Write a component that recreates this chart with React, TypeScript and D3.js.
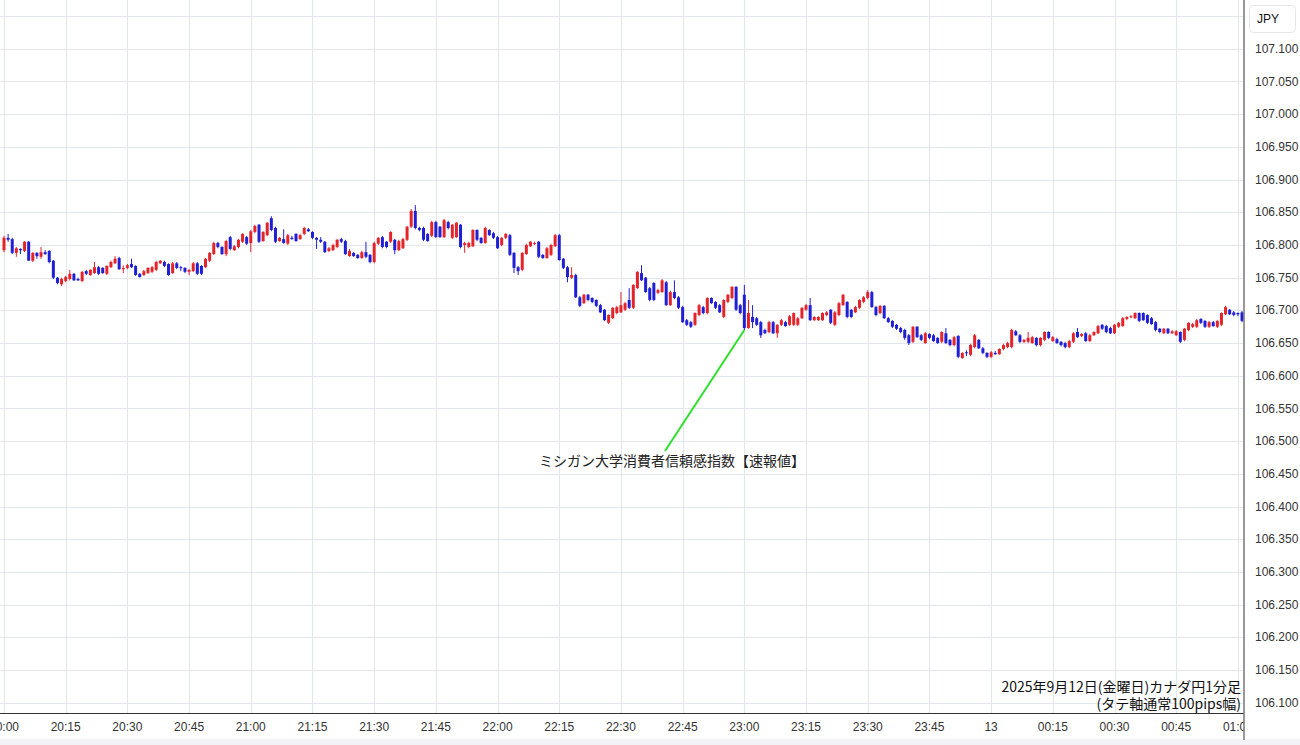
import React from "react";
import * as d3 from "d3";

// ---- data (CAD/JPY 1-minute candles, 2025-09-12 20:00 onwards) ----
const open = [
106.792,106.811,106.809,106.788,106.794,106.791,106.805,106.776,106.788,106.782,106.789,106.791,106.776,106.750,106.740,106.745,106.748,106.756,106.748,106.745,
106.760,106.754,106.757,106.766,106.765,106.756,106.766,106.772,106.780,106.763,106.765,106.771,106.768,106.756,106.754,106.757,106.759,106.762,106.772,106.774,
106.771,106.757,106.772,106.766,106.765,106.759,106.760,106.772,106.768,106.766,106.776,106.786,106.803,106.797,106.786,106.812,106.792,106.797,106.805,106.812,
106.803,106.820,106.831,106.806,106.815,106.841,106.826,106.806,106.809,106.802,106.811,106.817,106.809,106.817,106.824,106.820,106.811,106.808,106.805,106.791,
106.792,106.797,106.809,106.806,106.783,106.788,106.785,106.780,106.789,106.785,106.774,106.802,106.812,106.805,106.805,106.808,106.792,106.795,106.808,106.828,
106.852,106.826,106.826,106.817,106.814,106.835,106.828,106.812,106.835,106.811,106.812,106.831,106.800,106.797,106.798,106.823,106.811,106.803,106.823,106.818,
106.812,106.800,106.811,106.815,106.788,106.766,106.762,106.786,106.798,106.802,106.805,106.785,106.780,106.785,106.798,106.815,106.779,106.766,106.750,106.754,
106.720,106.711,106.724,106.719,106.716,106.708,106.701,106.681,106.688,106.696,106.697,106.701,106.716,106.704,106.734,106.757,106.750,106.734,106.742,106.727,
106.728,106.743,106.708,106.728,106.720,106.705,106.685,106.682,106.678,106.693,106.705,106.696,106.719,106.713,106.708,106.690,106.713,106.719,106.736,106.708,
106.724,106.673,106.690,106.688,106.682,106.670,106.667,106.682,106.665,106.678,106.682,106.678,106.678,106.678,106.688,106.701,106.708,106.685,106.685,106.685,
106.693,106.701,106.678,106.693,106.708,106.713,106.701,106.697,106.704,106.713,106.719,106.728,106.705,106.696,106.707,106.688,106.684,106.678,106.673,106.670,
106.662,106.652,106.675,106.662,106.650,106.664,106.662,106.658,106.652,106.665,106.655,106.647,106.661,106.627,106.636,106.632,106.644,106.655,106.642,106.635,
106.629,106.635,106.633,106.641,106.644,106.644,106.668,106.662,106.652,106.652,106.650,106.658,106.647,106.655,106.667,106.653,106.656,106.652,106.650,106.644,
106.652,106.667,106.661,106.665,106.653,106.662,106.665,106.678,106.676,106.673,106.665,106.675,106.676,106.687,106.690,106.688,106.696,106.696,106.693,106.688,
106.682,106.672,106.665,106.672,106.665,106.662,106.667,106.655,106.670,106.675,106.675,106.687,106.684,106.675,106.682,106.675,106.678,106.694,106.701,106.697,
106.696,106.697];
const high = [
106.814,106.817,106.811,106.797,106.795,106.806,106.806,106.789,106.789,106.797,106.792,106.792,106.777,106.751,106.750,106.753,106.762,106.757,106.750,106.760,
106.762,106.763,106.774,106.768,106.766,106.769,106.776,106.783,106.782,106.769,106.771,106.779,106.769,106.757,106.762,106.766,106.768,106.776,106.777,106.776,
106.772,106.774,106.774,106.768,106.766,106.763,106.774,106.774,106.769,106.780,106.789,106.805,106.805,106.798,106.808,106.814,106.800,106.809,106.818,106.814,
106.823,106.831,106.832,106.821,106.835,106.844,106.828,106.812,106.824,106.817,106.814,106.818,106.817,106.828,106.826,106.821,106.812,106.812,106.806,106.797,
106.802,106.809,106.811,106.808,106.794,106.789,106.786,106.791,106.805,106.786,106.805,106.812,106.814,106.806,106.821,106.809,106.808,106.811,106.829,106.855,
106.861,106.828,106.828,106.818,106.837,106.837,106.829,106.840,106.837,106.832,106.835,106.832,106.805,106.805,106.824,106.824,106.812,106.828,106.824,106.820,
106.814,106.812,106.818,106.817,106.789,106.768,106.789,106.802,106.806,106.805,106.806,106.786,106.797,106.802,106.817,106.817,106.780,106.768,106.766,106.756,
106.722,106.725,106.725,106.720,106.717,106.710,106.702,106.694,106.705,106.707,106.728,106.713,106.734,106.740,106.760,106.769,106.751,106.736,106.743,106.733,
106.748,106.745,106.730,106.746,106.722,106.707,106.687,106.684,106.697,106.710,106.707,106.720,106.720,106.714,106.710,106.717,106.725,106.737,106.737,106.710,
106.739,106.716,106.708,106.690,106.684,106.672,106.684,106.684,106.679,106.687,106.684,106.693,106.697,106.690,106.705,106.710,106.719,106.691,106.691,106.697,
106.699,106.702,106.699,106.713,106.725,106.714,106.702,106.707,106.717,106.722,106.731,106.730,106.707,106.708,106.708,106.690,106.685,106.679,106.675,106.672,
106.664,106.676,106.676,106.664,106.667,106.665,106.664,106.659,106.668,106.673,106.656,106.661,106.662,106.636,106.639,106.649,106.664,106.656,106.644,106.636,
106.638,106.638,106.642,106.649,106.652,106.672,106.670,106.664,106.656,106.667,106.661,106.659,106.659,106.668,106.668,106.661,106.658,106.653,106.652,106.655,
106.667,106.673,106.665,106.667,106.664,106.668,106.678,106.679,106.678,106.675,106.679,106.682,106.690,106.691,106.693,106.697,106.697,106.697,106.694,106.690,
106.684,106.673,106.673,106.673,106.670,106.670,106.668,106.673,106.682,106.681,106.687,106.688,106.685,106.684,106.684,106.685,106.697,106.707,106.702,106.699,
106.697,106.699];
const low = [
106.789,106.805,106.786,106.782,106.786,106.789,106.776,106.774,106.779,106.779,106.785,106.772,106.748,106.740,106.737,106.743,106.746,106.745,106.745,106.743,
106.754,106.753,106.756,106.754,106.756,106.754,106.765,106.771,106.762,106.757,106.763,106.765,106.753,106.750,106.753,106.756,106.757,106.760,106.771,106.766,
106.753,106.756,106.763,106.760,106.757,106.754,106.759,106.754,106.754,106.765,106.774,106.785,106.795,106.785,106.783,106.792,106.791,106.795,106.803,106.800,
106.789,106.818,106.803,106.805,106.814,106.821,106.803,106.805,106.802,106.800,106.808,106.805,106.808,106.815,106.820,106.809,106.794,106.803,106.788,106.789,
106.791,106.795,106.803,106.785,106.782,106.782,106.779,106.779,106.780,106.772,106.772,106.800,106.795,106.795,106.803,106.786,106.791,106.794,106.806,106.826,
106.824,106.821,106.806,106.805,106.812,106.811,106.811,106.811,106.824,106.809,106.811,106.795,106.788,106.795,106.797,106.806,106.802,106.802,106.814,106.809,
106.794,106.798,106.809,106.783,106.757,106.754,106.760,106.785,106.797,106.800,106.780,106.779,106.779,106.783,106.797,106.776,106.763,106.743,106.748,106.719,
106.705,106.710,106.714,106.711,106.705,106.696,106.684,106.679,106.687,106.694,106.696,106.699,106.702,106.702,106.733,106.745,106.727,106.714,106.714,106.725,
106.727,106.707,106.707,106.717,106.702,106.681,106.676,106.673,106.676,106.691,106.694,106.694,106.710,106.702,106.696,106.688,106.711,106.717,106.699,106.694,
106.670,106.672,106.673,106.676,106.658,106.664,106.665,106.664,106.658,106.676,106.675,106.676,106.676,106.676,106.687,106.699,106.684,106.684,106.684,106.684,
106.691,106.679,106.676,106.691,106.707,106.688,106.688,106.696,106.702,106.711,106.717,106.704,106.691,106.694,106.687,106.681,106.673,106.670,106.665,106.655,
106.647,106.650,106.658,106.653,106.649,106.656,106.652,106.649,106.650,106.649,106.645,106.645,106.627,106.626,106.630,106.630,106.642,106.641,106.633,106.627,
106.627,106.632,106.632,106.639,106.642,106.642,106.661,106.650,106.650,106.650,106.649,106.645,106.645,106.653,106.656,106.652,106.649,106.645,106.642,106.642,
106.650,106.658,106.659,106.652,106.652,106.661,106.664,106.670,106.665,106.664,106.664,106.673,106.675,106.685,106.688,106.687,106.682,106.684,106.679,106.678,
106.668,106.665,106.664,106.664,106.664,106.661,106.650,106.653,106.668,106.673,106.673,106.679,106.673,106.673,106.675,106.673,106.676,106.693,106.693,106.691,
106.691,106.682];
const close = [
106.811,106.808,106.788,106.795,106.792,106.805,106.776,106.788,106.783,106.789,106.786,106.774,106.750,106.742,106.748,106.751,106.756,106.746,106.746,106.759,
106.756,106.762,106.766,106.756,106.757,106.768,106.774,106.779,106.763,106.765,106.769,106.766,106.754,106.751,106.760,106.765,106.766,106.774,106.776,106.768,
106.754,106.772,106.765,106.765,106.759,106.762,106.772,106.756,106.756,106.779,106.788,106.803,106.797,106.786,106.806,106.794,106.798,106.808,106.817,106.802,
106.821,106.829,106.805,106.820,106.834,106.823,106.805,106.811,106.803,106.815,106.809,106.806,106.815,106.826,106.821,106.811,106.808,106.805,106.789,106.795,
106.800,106.808,106.805,106.786,106.791,106.783,106.780,106.789,106.782,106.774,106.803,106.811,106.797,106.797,106.820,106.792,106.806,106.809,106.828,106.852,
106.826,106.823,106.808,106.806,106.835,106.812,106.812,106.838,106.826,106.831,106.834,106.797,106.803,106.803,106.823,106.808,106.803,106.826,106.815,106.811,
106.795,106.811,106.817,106.785,106.765,106.760,106.788,106.800,106.805,106.803,106.782,106.780,106.795,106.800,106.815,106.777,106.765,106.751,106.754,106.720,
106.707,106.724,106.716,106.713,106.707,106.697,106.685,106.693,106.704,106.705,106.708,106.711,106.704,106.739,106.759,106.746,106.728,106.716,106.716,106.731,
106.746,106.708,106.728,106.719,106.704,106.682,106.678,106.675,106.696,106.708,106.696,106.719,106.711,106.704,106.697,106.716,106.724,106.736,106.701,106.696,
106.673,106.696,106.682,106.678,106.662,106.665,106.682,106.665,106.678,106.685,106.676,106.691,106.696,106.688,106.704,106.708,106.685,106.690,106.690,106.696,
106.697,106.681,106.697,106.711,106.724,106.690,106.690,106.705,106.716,106.720,106.728,106.705,106.693,106.707,106.688,106.682,106.675,106.672,106.667,106.658,
106.650,106.675,106.659,106.655,106.665,106.658,106.653,106.650,106.667,106.650,106.647,106.659,106.629,106.635,106.635,106.647,106.662,106.642,106.635,106.629,
106.636,106.633,106.641,106.647,106.650,106.670,106.662,106.652,106.655,106.658,106.659,106.647,106.658,106.667,106.658,106.659,106.650,106.647,106.644,106.653,
106.665,106.659,106.664,106.653,106.662,106.667,106.676,106.672,106.667,106.665,106.678,106.681,106.688,106.690,106.691,106.696,106.684,106.685,106.681,106.679,
106.670,106.667,106.672,106.665,106.668,106.668,106.652,106.672,106.681,106.679,106.685,106.681,106.675,106.682,106.676,106.684,106.696,106.705,106.694,106.693,
106.694,106.684];

const startTime = new Date(2025, 8, 12, 20, 0);
const endTime = new Date(2025, 8, 13, 1, 0);
const tickLabels = ["20:00","20:15","20:30","20:45","21:00","21:15","21:30","21:45","22:00","22:15","22:30","22:45","23:00","23:15","23:30","23:45","13","00:15","00:30","00:45","01:00"];
const priceTicks = [106.1,106.15,106.2,106.25,106.3,106.35,106.4,106.45,106.5,106.55,106.6,106.65,106.7,106.75,106.8,106.85,106.9,106.95,107.0,107.05,107.1];
const gridPrices = [...priceTicks, 107.15];
const eventLabel = "ミシガン大学消費者信頼感指数【速報値】";
const eventIndex = 180;
const titleLine1 = "2025年9月12日(金曜日)カナダ円1分足";
const titleLine2 = "(タテ軸通常100pips幅)";
const currency = "JPY";

const W = 1300, H = 745;
const PLOT_R = 1243.5, PLOT_B = 713.5;

export default function App() {
  const x = d3.scaleTime().domain([startTime, endTime]).range([4, 4 + 300 * 4.113]);
  const y = d3.scaleLinear().domain([106.1, 107.1]).range([702.8, 48.8]);
  const times = open.map((_, i) => d3.timeMinute.offset(startTime, i));
  const tickTimes = tickLabels.map((_, i) => d3.timeMinute.offset(startTime, i * 15));
  const fmt = d3.format(".3f");
  const up = "#e3252b", down = "#1f1fd6";
  const ex = x(times[eventIndex]);
  const ey = y(low[eventIndex]);
  const labelX = 672, labelY = 466;
  const font = "'Liberation Sans', Arial, sans-serif";
  const jfont = "'Noto Sans CJK JP', 'Noto Sans', sans-serif";

  return (
    <svg width={W} height={H} style={{ position: "absolute", left: 0, top: 0, background: "#fff" }}>
      <defs>
        <clipPath id="plot"><rect x={0} y={0} width={PLOT_R} height={PLOT_B} /></clipPath>
        <clipPath id="xaxis"><rect x={0} y={PLOT_B} width={PLOT_R} height={40} /></clipPath>
      </defs>
      <rect x={0} y={0} width={W} height={H} fill="#fff" />
      <rect x={0} y={739} width={W} height={6} fill="#f2f3f5" />
      <g clipPath="url(#plot)">
        {gridPrices.map((p) => (
          <line key={"h" + p} x1={0} x2={PLOT_R} y1={Math.round(y(p)) + 0.5} y2={Math.round(y(p)) + 0.5} stroke="#e1e7ed" strokeWidth={1} />
        ))}
        {tickTimes.map((t, i) => (
          <line key={"v" + i} x1={Math.round(x(t)) + 0.5} x2={Math.round(x(t)) + 0.5} y1={0} y2={PLOT_B} stroke="#e1e7ed" strokeWidth={1} />
        ))}
        {times.map((t, i) => {
          const cx = x(t);
          const isUp = close[i] >= open[i];
          const col = isUp ? up : down;
          const yo = y(open[i]), yc = y(close[i]);
          const top = Math.min(yo, yc);
          const hgt = Math.max(1, Math.abs(yo - yc));
          return (
            <g key={"c" + i}>
              <line x1={cx} x2={cx} y1={y(high[i])} y2={y(low[i])} stroke={col} strokeWidth={1} />
              <rect x={cx - 1.5} y={top} width={3} height={hgt} fill={col} />
            </g>
          );
        })}
        <line x1={labelX - 7} y1={labelY - 15} x2={ex} y2={ey} stroke="#2ee02e" strokeWidth={2} />
        <text x={labelX} y={labelY} textAnchor="middle" fontFamily={jfont} fontSize={14} fill="#222">{eventLabel}</text>
        <text x={1241} y={692} textAnchor="end" fontFamily={jfont} fontSize={14} fill="#111">{titleLine1}</text>
        <text x={1241} y={709} textAnchor="end" fontFamily={jfont} fontSize={14} fill="#111">{titleLine2}</text>
      </g>
      <line x1={0} x2={PLOT_R} y1={PLOT_B} y2={PLOT_B} stroke="#333" strokeWidth={1} />
      <line x1={PLOT_R + 0.5} x2={PLOT_R + 0.5} y1={0} y2={740} stroke="#333" strokeWidth={1} />
      <g clipPath="url(#xaxis)">
        {tickTimes.map((t, i) => (
          <text key={"tx" + i} x={x(t)} y={731} textAnchor="middle" fontFamily={font} fontSize={12} fill="#333">{tickLabels[i]}</text>
        ))}
      </g>
      {priceTicks.map((p) => (
        <text key={"ty" + p} x={1255} y={y(p) + 4} fontFamily={font} fontSize={12} fill="#333">{fmt(p)}</text>
      ))}
      <rect x={1249.5} y={5.5} width={46} height={27} rx={4} fill="#fff" stroke="#e6e6e6" />
      <text x={1257} y={23} fontFamily={font} fontSize={12} fill="#111">{currency}</text>
    </svg>
  );
}
